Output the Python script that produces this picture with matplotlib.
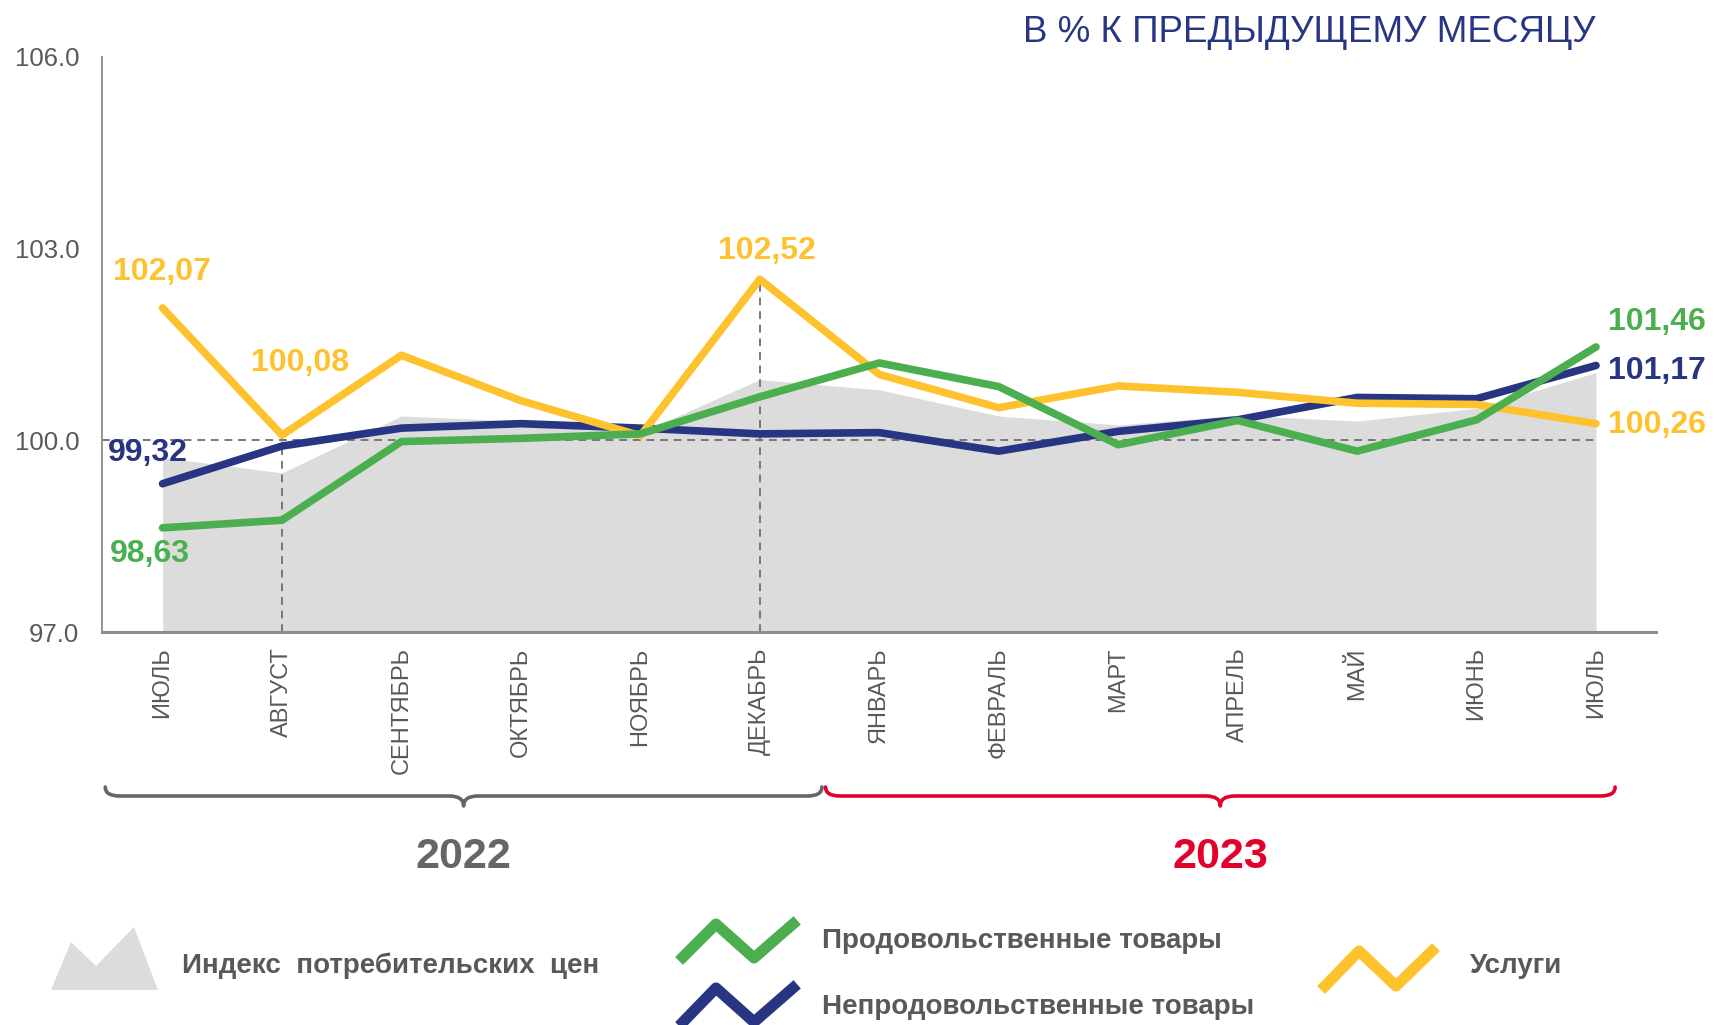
import numpy as np
import matplotlib
matplotlib.use("Agg")
import matplotlib.pyplot as plt
from matplotlib.path import Path
from matplotlib.patches import PathPatch, Polygon

plt.rcParams['font.family'] = ['Liberation Sans', 'DejaVu Sans']

# данные (в % к предыдущему месяцу)
months = ["ИЮЛЬ", "АВГУСТ", "СЕНТЯБРЬ", "ОКТЯБРЬ", "НОЯБРЬ", "ДЕКАБРЬ",
          "ЯНВАРЬ", "ФЕВРАЛЬ", "МАРТ", "АПРЕЛЬ", "МАЙ", "ИЮНЬ", "ИЮЛЬ"]
cpi = [99.73, 99.49, 100.38, 100.30, 100.12, 100.95, 100.79, 100.38,
       100.24, 100.39, 100.30, 100.50, 101.06]
food = [98.63, 98.75, 99.98, 100.03, 100.10, 100.68, 101.21, 100.84,
        99.93, 100.31, 99.83, 100.32, 101.46]
nonfood = [99.32, 99.91, 100.19, 100.26, 100.19, 100.10, 100.12, 99.83,
           100.14, 100.32, 100.67, 100.65, 101.17]
services = [102.07, 100.08, 101.33, 100.62, 100.07, 102.52, 101.03, 100.51,
            100.85, 100.75, 100.58, 100.56, 100.26]
years = ["2022", "2023"]

GREEN = '#4caf4f'
BLUE = '#283583'
YELLOW = '#fec22e'
GRAYF = '#dcdcdc'
TXT = '#595959'
RED = '#e3002b'

x = np.arange(len(months))

fig = plt.figure(figsize=(17.14, 10.25), dpi=100)
ax = fig.add_axes([0.0593, 0.3834, 0.9067, 0.5612])

ax.fill_between(x, 97, cpi, color=GRAYF, lw=0, zorder=1)
ax.hlines(100, -0.51, x[-1], colors='#777777', linestyles=(0, (4, 3)), lw=1.4, zorder=2)
ax.vlines([x[1], x[5]], 97, [services[1], services[5]], colors='#777777',
          linestyles=(0, (4, 3)), lw=1.4, zorder=2)

ax.plot(x, nonfood, color=BLUE, lw=5.5, solid_capstyle='round', zorder=3)
ax.plot(x, services, color=YELLOW, lw=5.5, solid_capstyle='round', zorder=4)
ax.plot(x, food, color=GREEN, lw=5.5, solid_capstyle='round', zorder=5)

ax.set_xlim(-0.51, 12.5)
ax.set_ylim(97, 106)
ax.set_yticks([97, 100, 103, 106])
ax.set_yticklabels(["%.1f" % v for v in [97, 100, 103, 106]])
ax.set_xticks(x)
ax.set_xticklabels(months, rotation=90, va='top', ha='center')
ax.tick_params(axis='y', length=0, pad=16, labelsize=18.5, labelcolor=TXT)
ax.tick_params(axis='x', length=0, pad=11, labelsize=17, labelcolor=TXT)
for s in ['top', 'right']:
    ax.spines[s].set_visible(False)
ax.spines['left'].set_color('#8c8c8c')
ax.spines['left'].set_linewidth(1.3)
ax.spines['bottom'].set_color('#8c8c8c')
ax.spines['bottom'].set_linewidth(2.2)


def lab(i, series, color, dx, dy):
    v = series[i]
    ax.annotate(("%.2f" % v).replace('.', ','), (x[i], v), xytext=(dx, dy),
                textcoords='offset pixels', ha='center', va='center',
                fontsize=23, fontweight='bold', color=color, annotation_clip=False)


lab(0, services, YELLOW, -1, 36)
lab(1, services, YELLOW, 18, 72)
lab(5, services, YELLOW, 7, 28)
lab(0, nonfood, BLUE, -15, 31)
lab(0, food, GREEN, -13, -26)
lab(12, food, GREEN, 61, 25)
lab(12, nonfood, BLUE, 61, -6)
lab(12, services, YELLOW, 61, -1)

fig.text(0.931, 0.968, "В % К ПРЕДЫДУЩЕМУ МЕСЯЦУ", ha='right', va='center',
         fontsize=26.5, color=BLUE)

# фигурные скобки годов
axb = fig.add_axes([0.0593, 1 - 815 / 1025, 0.9067, 35 / 1025])
axb.set_xlim(-0.51, 12.5)
axb.set_ylim(815, 780)
axb.axis('off')


def brace(x0, x1, color):
    xm = (x0 + x1) / 2
    d = 0.12
    verts = [(x0, 787), (x0, 796), (x0 + d, 796), (xm - d, 796),
             (xm, 796), (xm, 806), (xm, 796), (xm + d, 796),
             (x1 - d, 796), (x1, 796), (x1, 787)]
    codes = [Path.MOVETO, Path.CURVE3, Path.CURVE3, Path.LINETO,
             Path.CURVE3, Path.CURVE3, Path.CURVE3, Path.CURVE3,
             Path.LINETO, Path.CURVE3, Path.CURVE3]
    axb.add_patch(PathPatch(Path(verts, codes), fill=False, ec=color, lw=2.6,
                            capstyle='round', joinstyle='round'))
    return xm


m1 = brace(-0.48, 5.52, '#666666')
m2 = brace(5.55, 12.16, RED)

axy = fig.add_axes([0.0593, 0.12, 0.9067, 0.08])
axy.set_xlim(-0.51, 12.5)
axy.set_ylim(0, 1)
axy.axis('off')
axy.text(m1, 0.55, years[0], ha='center', va='center', fontsize=31,
         fontweight='bold', color='#666666')
axy.text(m2, 0.55, years[1], ha='center', va='center', fontsize=31,
         fontweight='bold', color=RED)

# легенда
axl = fig.add_axes([0, 0, 1, 1])
axl.set_xlim(0, 1714)
axl.set_ylim(1025, 0)
axl.axis('off')
axl.add_patch(Polygon([(51, 990), (71, 942), (96, 966), (134, 927), (158, 990)],
                      closed=True, fc=GRAYF, ec='none'))
axl.plot([683, 716, 754, 793], [957, 924, 958, 924], color=GREEN, lw=8)
axl.plot([683, 716, 754, 793], [1022, 988, 1022, 988], color=BLUE, lw=8)
axl.plot([1325, 1359, 1396, 1432], [986, 951, 986, 951], color=YELLOW, lw=8)
leg = dict(fontsize=20, fontweight='bold', color=TXT, va='center', ha='left')
axl.text(182, 966, "Индекс  потребительских  цен", **leg)
axl.text(822, 941, "Продовольственные товары", **leg)
axl.text(822, 1007, "Непродовольственные товары", **leg)
axl.text(1470, 966, "Услуги", **leg)

fig.savefig("out.png", dpi=100)
